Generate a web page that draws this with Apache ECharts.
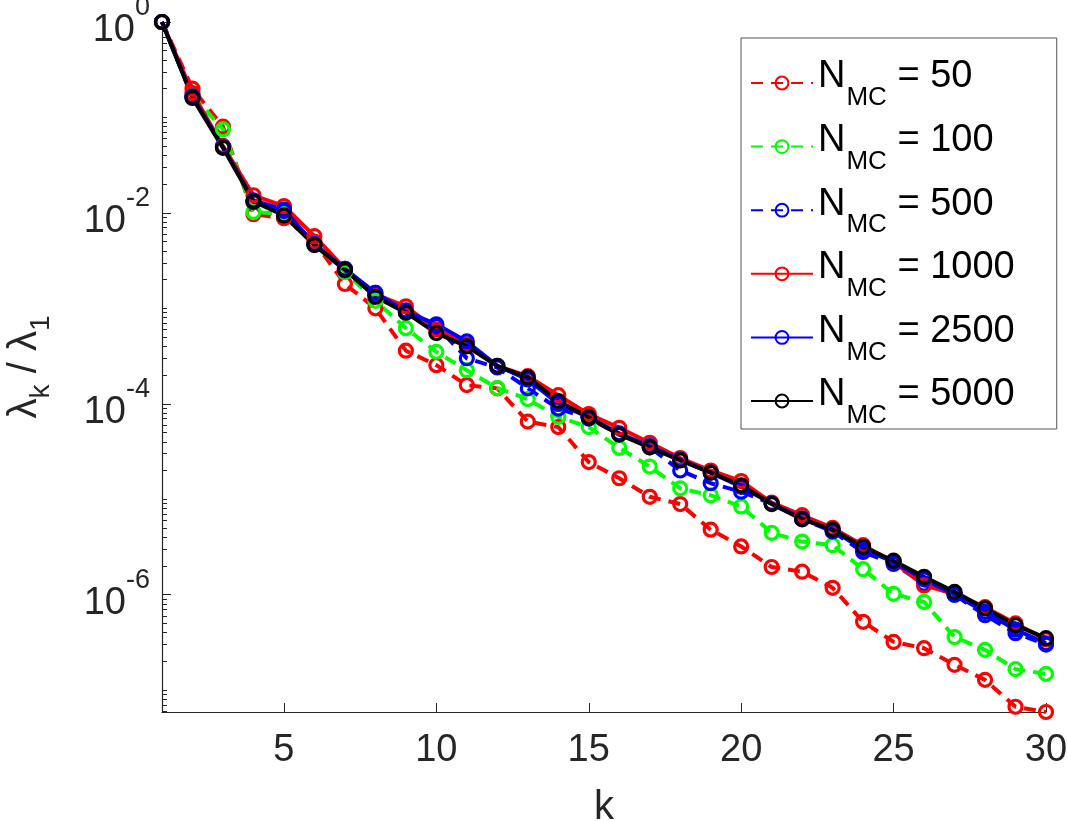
<!DOCTYPE html>
<html>
<head>
<meta charset="utf-8">
<script src="https://cdn.jsdelivr.net/npm/echarts@6/dist/echarts.min.js"></script>
<style>
html,body{margin:0;padding:0;background:#fff;}
#chart{width:1067px;height:821px;}
</style>
</head>
<body>
<div id="chart"></div>
<script>
// eigenvalue index
var k = [1,2,3,4,5,6,7,8,9,10,11,12,13,14,15,16,17,18,19,20,21,22,23,24,25,26,27,28,29,30];

// lambda_k / lambda_1 for each Monte Carlo sample size
var n50   = [1,0.2,0.08,0.0097,0.0088,0.005,0.0018,0.001,0.00036,0.000254,0.000157,0.000145,6.5e-5,5.7e-5,2.45e-5,1.66e-5,1.06e-5,8.9e-6,4.8e-6,3.2e-6,1.95e-6,1.74e-6,1.18e-6,5.2e-7,3.2e-7,2.75e-7,1.84e-7,1.28e-7,6.7e-8,5.9e-8];
var n100  = [1,0.17,0.075,0.0102,0.0098,0.0047,0.0024,0.0012,0.00062,0.00035,0.000225,0.000146,0.000112,7.3e-5,5.7e-5,3.45e-5,2.2e-5,1.3e-5,1.1e-5,8.4e-6,4.45e-6,3.6e-6,3.3e-6,1.85e-6,1.02e-6,8.4e-7,3.6e-7,2.64e-7,1.66e-7,1.48e-7];
var n500  = [1,0.165,0.05,0.013,0.0105,0.0047,0.0025,0.00145,0.00095,0.00065,0.0003,0.00024,0.000145,8.9e-5,7e-5,4.8e-5,3.5e-5,2e-5,1.47e-5,1.2e-5,9e-6,6.2e-6,4.6e-6,2.8e-6,2.1e-6,1.3e-6,1.0e-6,6.1e-7,3.95e-7,3.0e-7];
var n1000 = [1,0.18,0.05,0.0153,0.0118,0.0057,0.0026,0.0014,0.00105,0.0006,0.00042,0.00025,0.000195,0.000123,7.8e-5,5.6e-5,3.9e-5,2.7e-5,2e-5,1.55e-5,9.2e-6,6.8e-6,5.0e-6,3.3e-6,2.2e-6,1.25e-6,1.02e-6,7.4e-7,5.0e-7,3.4e-7];
var n2500 = [1,0.165,0.049,0.0135,0.0108,0.0047,0.0026,0.00145,0.00093,0.00068,0.00045,0.00025,0.00018,0.0001,7.2e-5,4.9e-5,3.6e-5,2.6e-5,1.9e-5,1.35e-5,9e-6,6.3e-6,4.7e-6,3e-6,2.2e-6,1.45e-6,1.0e-6,6.6e-7,4.3e-7,3.1e-7];
var n5000 = [1,0.16,0.048,0.0132,0.0094,0.0046,0.00253,0.00132,0.0009,0.00055,0.0004,0.000248,0.00019,0.000107,7.2e-5,4.75e-5,3.5e-5,2.55e-5,1.9e-5,1.4e-5,8.9e-6,6.15e-6,4.8e-6,3.18e-6,2.27e-6,1.54e-6,1.07e-6,7.2e-7,4.8e-7,3.5e-7];

var sampleSizes = [50, 100, 500, 1000, 2500, 5000];
var seriesValues = [n50, n100, n500, n1000, n2500, n5000];
var seriesColors = ['#ff0000', '#00ff00', '#0000ff', '#ff0000', '#0000ff', '#000000'];
var seriesDashed = [true, true, true, false, false, false];

// tick labels
var xTickValues = [5, 10, 15, 20, 25, 30];
var yLabelValues = [1, 1e-2, 1e-4, 1e-6];

var yMin = 5.9e-8, yMax = 1;

// minor ticks on the log axis: 1..9 x 10^n, without the labelled ones
var yMinorValues = [];
for (var e = -8; e <= 0; e++) {
	for (var m = 1; m <= 9; m++) {
		var v = +(m * Math.pow(10, e)).toPrecision(6);
		if (v >= yMin && v <= yMax && yLabelValues.indexOf(v) < 0) yMinorValues.push(v);
	}
}

var font = 'Liberation Sans, Arial, Helvetica, sans-serif';
var axisColor = '#262626';

var myChart = echarts.init(document.getElementById('chart'));

var series = sampleSizes.map(function(n, i){
	return {
		name: 'N_MC = ' + n,
		type: 'line',
		data: k.map(function(x, j){ return [x, seriesValues[i][j]]; }),
		symbol: 'circle',
		symbolSize: 13,
		lineStyle: {color: seriesColors[i], width: 4, type: seriesDashed[i] ? [12, 8] : 'solid'},
		itemStyle: {color: 'rgba(255,255,255,0)', borderColor: seriesColors[i], borderWidth: 3.2},
		emphasis: {disabled: true}
	};
});

var option = {
	animation: false,
	backgroundColor: '#fff',
	grid: {left: 162, right: 21, top: 22, bottom: 109, containLabel: false, outerBoundsMode: 'none'},
	legend: {
		orient: 'vertical',
		left: 741,
		top: 38,
		padding: [17, 42, 0, 9],
		itemGap: 7.6,
		itemWidth: 62,
		itemHeight: 16,
		borderColor: '#555',
		borderWidth: 1,
		backgroundColor: '#fff',
		data: series.map(function(s){ return s.name; }),
		formatter: function(name){
			return '{n|N}{sub|MC}{t| = ' + name.split('= ')[1] + '}';
		},
		textStyle: {
			color: '#000',
			fontFamily: font,
			rich: {
				n: {fontSize: 38, lineHeight: 56, padding: [0, 0, 12, 0], fontFamily: font, color: '#000'},
				sub: {fontSize: 26, lineHeight: 56, padding: [30, 0, 0, 1], fontFamily: font, color: '#000'},
				t: {fontSize: 38, lineHeight: 56, padding: [0, 0, 12, 0], fontFamily: font, color: '#000'}
			}
		}
	},
	xAxis: {
		type: 'value',
		min: 1,
		max: 30,
		name: 'k',
		nameLocation: 'middle',
		nameGap: 76,
		nameTextStyle: {fontSize: 40, color: axisColor, fontFamily: font},
		axisLine: {show: true, lineStyle: {color: axisColor, width: 1.2}},
		axisTick: {show: true, inside: true, length: 9, customValues: xTickValues, lineStyle: {color: axisColor}},
		axisLabel: {customValues: xTickValues, fontSize: 38, color: axisColor, fontFamily: font, margin: 20},
		splitLine: {show: false}
	},
	yAxis: [{
		type: 'log',
		logBase: 10,
		min: yMin,
		max: yMax,
		position: 'left',
		name: '{l|λ}{s|k}{l| / λ}{s|1}',
		nameLocation: 'middle',
		nameRotate: 90,
		nameGap: 107,
		nameTextStyle: {
			color: axisColor,
			fontFamily: font,
			rich: {
				l: {fontSize: 40, lineHeight: 50, verticalAlign: 'top', color: axisColor, fontFamily: font},
				s: {fontSize: 28, lineHeight: 28, verticalAlign: 'bottom', color: axisColor, fontFamily: font}
			}
		},
		axisLine: {show: true, lineStyle: {color: axisColor, width: 1.2}},
		axisTick: {show: true, inside: true, length: 9, customValues: yLabelValues, lineStyle: {color: axisColor}},
		axisLabel: {
			customValues: yLabelValues,
			margin: 12,
			formatter: function(v){
				return '{b|10}{s|' + Math.round(Math.log10(v)) + '}';
			},
			rich: {
				b: {fontSize: 38, lineHeight: 56, verticalAlign: 'bottom', color: axisColor, fontFamily: font},
				s: {fontSize: 27, lineHeight: 27, verticalAlign: 'top', color: axisColor, fontFamily: font}
			}
		},
		splitLine: {show: false}
	}, {
		type: 'log',
		logBase: 10,
		min: yMin,
		max: yMax,
		position: 'left',
		offset: 0,
		axisLine: {show: false},
		axisTick: {show: true, inside: true, length: 5, customValues: yMinorValues, lineStyle: {color: axisColor}},
		axisLabel: {show: false},
		splitLine: {show: false}
	}],
	series: series
};

myChart.setOption(option);
</script>
</body>
</html>
